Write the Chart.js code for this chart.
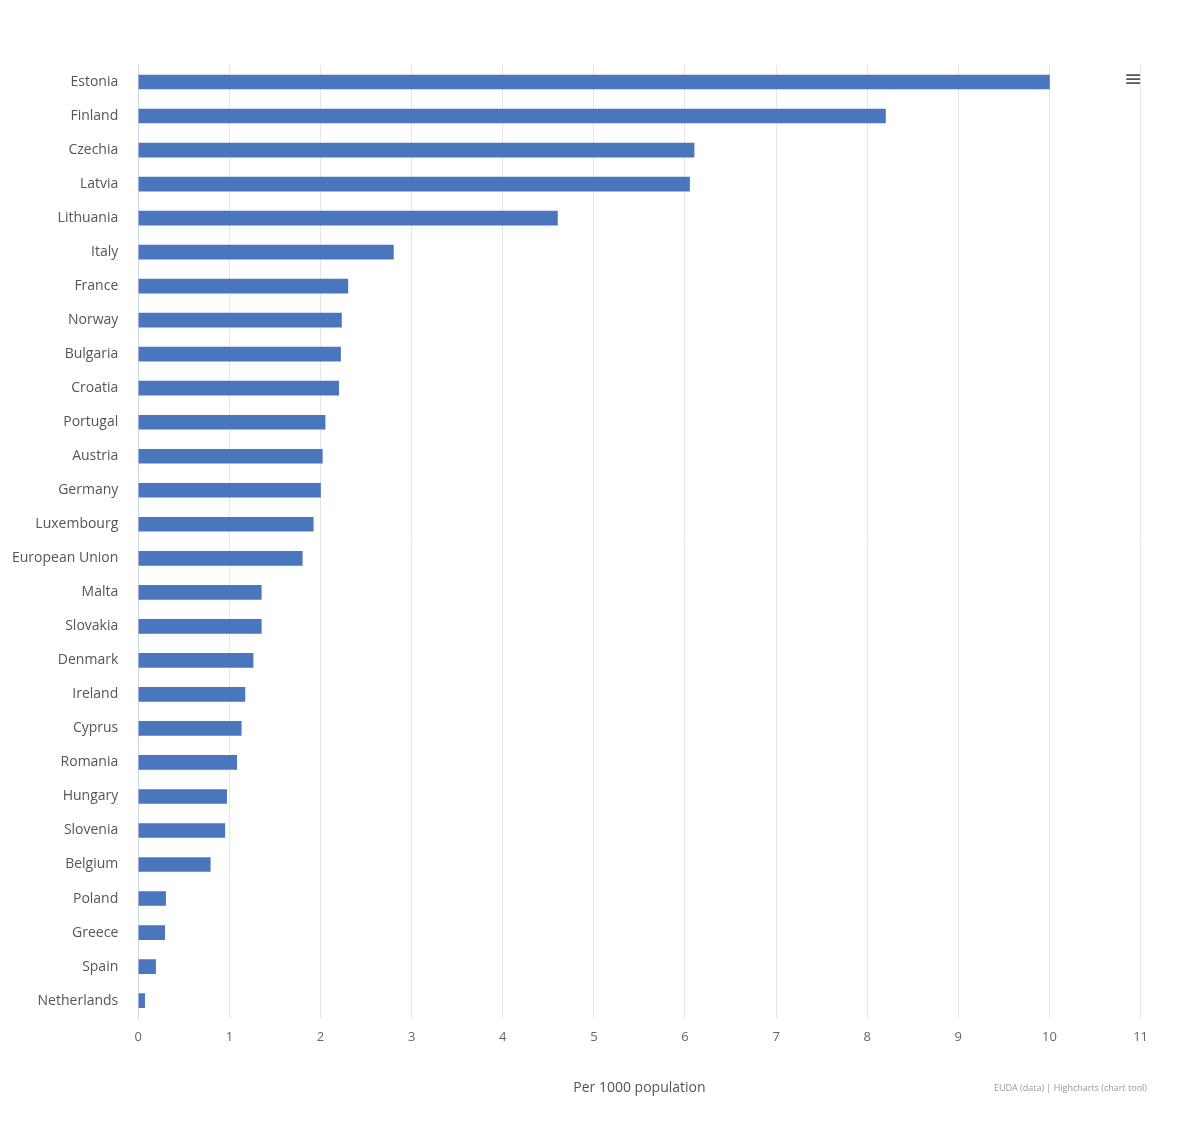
<!DOCTYPE html>
<html><head><meta charset="utf-8">
<script src="https://cdn.jsdelivr.net/npm/chart.js@4"></script>
<style>
html,body{margin:0;padding:0;background:#fff;}
#wrap{position:absolute;left:0;top:40px;width:1160px;height:1060px;}
#menu{position:absolute;left:1124px;top:66px;font:22px "DejaVu Sans";color:#555;}
#credit{position:absolute;right:52px;top:1081px;font:9px "Open Sans";color:#999;}
</style></head><body>
<div id="wrap"><canvas id="c"></canvas></div>
<div id="menu">≡</div>
<div id="credit">EUDA (data) | Highcharts (chart tool)</div>
<script>
const categories=["Estonia","Finland","Czechia","Latvia","Lithuania","Italy","France","Norway","Bulgaria","Croatia","Portugal","Austria","Germany","Luxembourg","European Union","Malta","Slovakia","Denmark","Ireland","Cyprus","Romania","Hungary","Slovenia","Belgium","Poland","Greece","Spain","Netherlands"];
const values=[10.0,8.2,6.1,6.05,4.6,2.8,2.3,2.23,2.22,2.2,2.05,2.02,2.0,1.92,1.8,1.35,1.35,1.26,1.17,1.13,1.08,0.97,0.95,0.79,0.3,0.29,0.19,0.07];
const xTicks=[0,1,2,3,4,5,6,7,8,9,10,11];
new Chart(document.getElementById('c'),{
type:'bar',
data:{labels:categories,datasets:[{data:values,backgroundColor:'#4a76bd',barThickness:14}]},
options:{indexAxis:'y',responsive:true,maintainAspectRatio:false,animation:false,
layout:{padding:{top:25,right:0,bottom:0,left:0}},
plugins:{legend:{display:false},tooltip:{enabled:false}},
scales:{
x:{min:0,max:11,afterBuildTicks:a=>{a.ticks=xTicks.map(v=>({value:v}));},
grid:{color:'#e6e6e6',drawTicks:false},border:{display:false},
ticks:{color:'#666',font:{family:'Open Sans',size:13},padding:12},
title:{display:true,text:'Per 1000 population',color:'#555',font:{family:'Open Sans',size:14},padding:{top:22}}},
y:{grid:{display:false},border:{color:'#ccd6eb'},
ticks:{color:'#555',font:{family:'Open Sans',size:14},padding:12}}
}}});
</script></body></html>
